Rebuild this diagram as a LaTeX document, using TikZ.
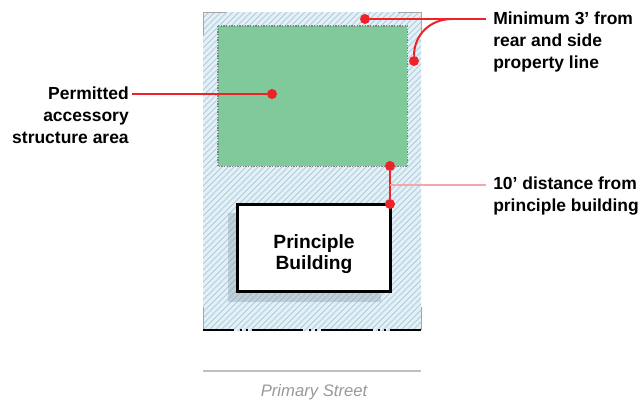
\documentclass[tikz,border=0pt]{standalone}
\usepackage{fontspec}
\setmainfont{Liberation Sans}
\usetikzlibrary{positioning}
\definecolor{lotblue}{HTML}{E2F1F8}
\definecolor{hatchblue}{HTML}{B4CAD5}
\definecolor{areagreen}{HTML}{80C99B}
\definecolor{markred}{HTML}{EE2229}
\definecolor{linkpink}{HTML}{F8A5A8}
\definecolor{shadowgrey}{HTML}{7F97A3}
\tikzset{
	dot/.style={circle, fill=markred, draw=none, minimum size=7.5pt, inner sep=0pt},
	lead/.style={draw=markred, line width=1.5pt},
	label/.style={font=\fontsize{13.1pt}{16.3pt}\selectfont\bfseries, inner sep=0pt, align=left},
	corner/.style={draw=gray!70, line width=0.7pt},
	edge/.style={draw=black, line width=1.6pt}
}
\begin{document}
\begin{tikzpicture}[x=0.75pt,y=-0.75pt]
		\useasboundingbox (0,0) rectangle (639,401);
		% lot
		\fill[lotblue] (203,12) rectangle (421,331);
		\begin{scope}
			\clip (203,12) rectangle (421,331);
			\foreach \i in {0,6,...,550}
				\draw[hatchblue, line width=0.75pt] (203+\i-319,331) -- (203+\i,12);
		\end{scope}
		\draw[corner] (203,35) -- (203,12) -- (226,12);
		\draw[corner] (398,12) -- (421,12) -- (421,35);
		\draw[corner] (203,307) -- (203,330);
		\draw[corner] (421,307) -- (421,330);
		% front edge
		\draw[edge] (203,330) -- (234,330);
		\draw[edge] (240,330) -- (242,330);
		\draw[edge] (246,330) -- (248,330);
		\draw[edge] (252,330) -- (303,330);
		\draw[edge] (309,330) -- (311,330);
		\draw[edge] (315,330) -- (317,330);
		\draw[edge] (321,330) -- (373,330);
		\draw[edge] (378,330) -- (380,330);
		\draw[edge] (384,330) -- (386,330);
		\draw[edge] (390,330) -- (421,330);
		% accessory area
		\node (area) [fill=areagreen, minimum width=141.75pt, minimum height=105pt, inner sep=0pt, anchor=north west] at (218,26) {};
		\draw[black!50, line width=0.9pt, dash pattern=on 1pt off 1pt] (area.north west) rectangle (area.south east);
		% building
		\fill[shadowgrey, opacity=0.35] (228,213) rectangle (381,302);
		\node (building) [fill=white, draw=black, line width=2.2pt, minimum width=114.5pt, minimum height=65.5pt, anchor=north west, inner sep=0pt] at (236,203) {};
		\node (buildingtext) [inner sep=0pt, align=center, font=\fontsize{14.4pt}{15.8pt}\selectfont\bfseries] at (314,254) {Principle\\Building};
		% street
		\coordinate (s1) at (203,371);
		\coordinate (s2) at (421,371);
		\draw[gray!50, line width=0.8pt] (s1) -- (s2);
		\node (street) [text=gray!80, font=\fontsize{12.5pt}{14pt}\selectfont\itshape, inner sep=0pt] at (314,392) {Primary Street};
		% labels
		\node (t1) [label, anchor=north west] at (493,12) {Minimum 3’ from\\rear and side\\property line};
		\node (t2) [label, anchor=north west] at (493,177) {10’ distance from\\principle building};
		\node (t3) [label, align=right, anchor=north east] at (129,87) {Permitted\\accessory\\structure area};
		% dots
		\node (d1) [dot] at (365,19) {};
		\node (d2) [dot] at (414,61) {};
		\node (d3) [dot] at (272,94) {};
		\node (d4) [dot] at (390,166) {};
		\node (d5) [dot] at (390,204) {};
		\coordinate (c1) at (486,19);
		\coordinate (c2) at (390,185);
		\coordinate (c3) at (486,185);
		\coordinate (c4) at (132,94);
		\coordinate (c5) at (452,19);
		% leaders
		\draw[lead] (d1) -- (c1);
		\draw[lead] (d2) .. controls (414,35) and (430,19) .. (c5);
		\draw[lead] (d3) -- (c4);
		\draw[lead] (d4) -- (d5);
		\draw[draw=linkpink, line width=0.9pt] (c2) -- (c3);
\end{tikzpicture}
\end{document}
